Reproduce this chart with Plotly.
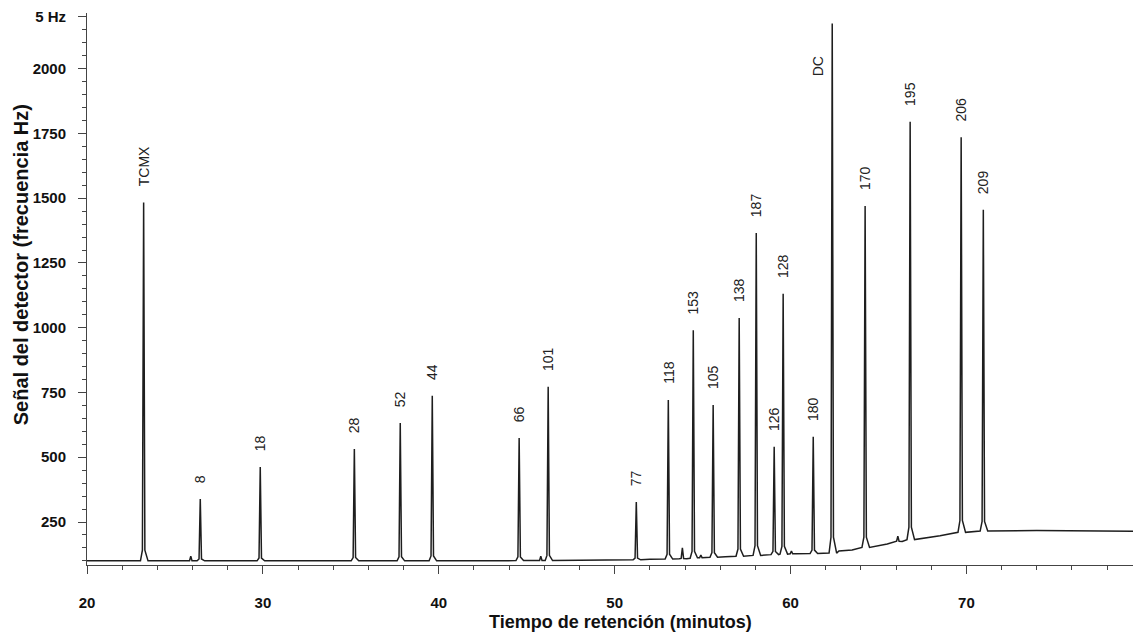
import plotly.graph_objects as go

# Peak data (retention time in minutes, apex signal in Hz, baseline under the peak, label)
peak_times = [23.22, 25.90, 26.44, 29.85, 35.20, 37.81, 39.63, 44.57, 45.80, 46.22,
              51.23, 53.05, 53.85, 54.47, 54.90, 55.60, 57.08, 58.05, 59.07, 59.58,
              60.05, 61.29, 62.37, 64.24, 66.10, 66.80, 69.70, 70.96]
peak_heights = [1483, 118, 339, 462, 532, 632, 737, 574, 118, 772,
                327, 721, 150, 990, 122, 702, 1038, 1366, 540, 1131,
                138, 579, 2174, 1470, 195, 1795, 1735, 1455]
peak_bases = [100, 100, 100, 100, 100, 100, 100, 101, 101, 101,
              104, 107, 108, 110, 112, 114, 118, 121, 124, 126,
              127, 128, 130, 152, 175, 182, 210, 215]
peak_labels = ["TCMX", "", "8", "18", "28", "52", "44", "66", "", "101",
               "77", "118", "", "153", "", "105", "138", "187", "126", "128",
               "", "180", "DC", "170", "", "195", "206", "209"]

# Baseline readings between peaks
base_times = [20.0, 42.0, 48.0, 52.0, 56.3, 61.0, 62.75, 63.5, 65.5, 68.5, 71.5, 74.0, 79.5]
base_values = [100, 100, 102, 106, 116, 128, 138, 142, 165, 197, 215, 217, 214]

x_ticks = [20, 30, 40, 50, 60, 70]
y_ticks = [250, 500, 750, 1000, 1250, 1500, 1750, 2000, 2200]
y_tick_text = ["250", "500", "750", "1000", "1250", "1500", "1750", "2000", "5 Hz"]

# Peak drawing shape (style only): offsets in minutes around apex
left_off, right_off, shoulder = 0.18, 0.25, 0.07

pts = list(zip(base_times, base_values))
for t, h, b in zip(peak_times, peak_heights, peak_bases):
    foot = b + 0.03 * (h - b)
    pts += [(t - left_off, b), (t - shoulder, foot), (t, h), (t + shoulder, foot), (t + right_off, b)]
pts.sort(key=lambda p: p[0])
xs = [p[0] for p in pts]
ys = [p[1] for p in pts]

fig = go.Figure()
fig.add_trace(go.Scatter(x=xs, y=ys, mode="lines",
                         line=dict(color="#1e1e1e", width=1.5), hoverinfo="skip",
                         showlegend=False))

FONT = "Liberation Sans, Arial, sans-serif"
label_font = dict(family=FONT, size=14, color="#222222")
for t, h, lab in zip(peak_times, peak_heights, peak_labels):
    if not lab:
        continue
    if lab == "DC":
        fig.add_annotation(x=t, y=2010, text=lab, textangle=-90, showarrow=False,
                           xanchor="right", yanchor="middle", xshift=-4, font=label_font)
    else:
        fig.add_annotation(x=t, y=h, text=lab, textangle=-90, showarrow=False,
                           xanchor="center", yanchor="bottom", yshift=14, font=label_font)

fig.add_annotation(text="Tiempo de retención (minutos)", xref="paper", yref="paper",
                   x=0.51, y=0, yshift=-57, xanchor="center", yanchor="middle",
                   showarrow=False, font=dict(family=FONT, size=18, color="#111111", weight="bold"))
fig.add_annotation(text="Señal del detector (frecuencia Hz)", xref="paper", yref="paper",
                   x=0, y=0.543, xshift=-66, textangle=-90, xanchor="center", yanchor="middle",
                   showarrow=False, font=dict(family=FONT, size=20, color="#111111", weight="bold"))

tick_font = dict(family=FONT, size=15, color="#111111", weight="bold")
axis_color = "#444444"

fig.update_layout(
    width=1133, height=635,
    margin=dict(l=87, r=0, t=13, b=70),
    paper_bgcolor="white", plot_bgcolor="white",
    xaxis=dict(range=[20, 79.47], tickmode="array", tickvals=x_ticks,
               ticks="outside", ticklen=8, tickwidth=1, tickcolor=axis_color,
               showline=True, linecolor=axis_color, linewidth=1,
               showgrid=False, zeroline=False, tickfont=tick_font,
               ticklabelstandoff=16, automargin=False,
               minor=dict(dtick=2, tick0=20, ticks="outside", ticklen=4, tickcolor=axis_color, showgrid=False)),
    yaxis=dict(range=[84, 2215], tickmode="array", tickvals=y_ticks, ticktext=y_tick_text,
               ticks="outside", ticklen=8, tickwidth=1, tickcolor=axis_color,
               showline=True, linecolor=axis_color, linewidth=1,
               showgrid=False, zeroline=False, tickfont=tick_font,
               ticklabelstandoff=9, automargin=False,
               minor=dict(dtick=50, tick0=0, ticks="outside", ticklen=4, tickcolor=axis_color, showgrid=False)),
)

fig.write_html("out.html", config={"displayModeBar": False},
               post_script="document.body.style.margin='0';document.body.style.overflow='hidden';")
